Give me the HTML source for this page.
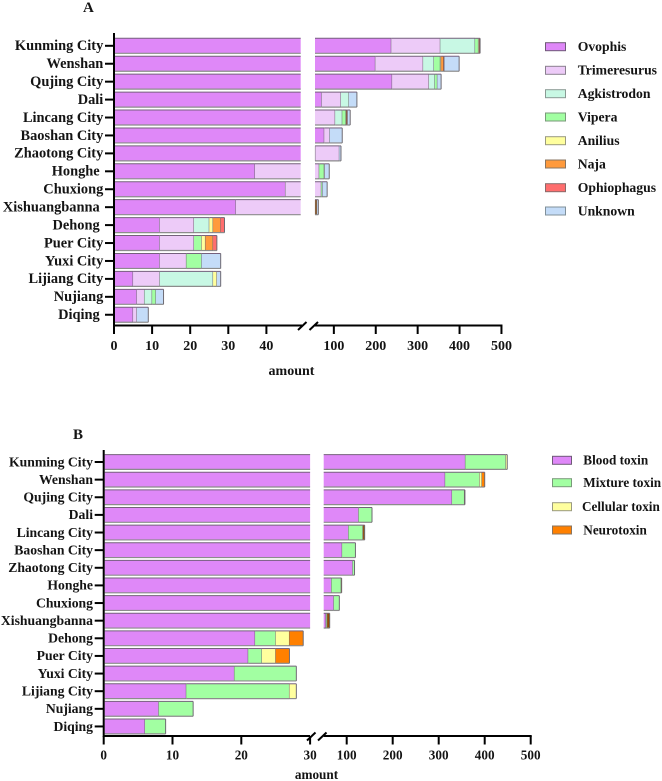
<!DOCTYPE html>
<html>
<head>
<meta charset="utf-8">
<title>Snake species and toxin types by city</title>
<style>
html,body{margin:0;padding:0;background:#fff;width:662px;height:781px;overflow:hidden}
svg{display:block}
text{font-family:"Liberation Serif",serif;font-weight:bold;fill:#141414}
</style>
</head>
<body>
<svg id="figure" width="662" height="781" viewBox="0 0 662 781" xmlns="http://www.w3.org/2000/svg">
  <text x="83" y="12" font-size="15">A</text>
  <text x="73" y="439" font-size="15">B</text>

  <g>
    <g><rect x="545.5" y="42.7" width="20" height="8" fill="#DF88F8" stroke="#6f5a78"/><text x="577.7" y="51" font-size="13.7">Ovophis</text></g>
    <g><rect x="545.5" y="66.3" width="20" height="8" fill="#EDCBF8" stroke="#8a8090"/><text x="577.7" y="74.6" font-size="13.7">Trimeresurus</text></g>
    <g><rect x="545.5" y="89.7" width="20" height="8" fill="#C8F8E4" stroke="#8a9a94"/><text x="577.7" y="98" font-size="13.7">Agkistrodon</text></g>
    <g><rect x="545.5" y="113" width="20" height="8" fill="#A2FFA2" stroke="#7a9a7a"/><text x="577.7" y="121.3" font-size="13.7">Vipera</text></g>
    <g><rect x="545.5" y="136.7" width="20" height="8" fill="#FFFF9E" stroke="#9a9a80"/><text x="577.7" y="145" font-size="13.7">Anilius</text></g>
    <g><rect x="545.5" y="160" width="20" height="8" fill="#FF9A3C" stroke="#8a7560"/><text x="577.7" y="168.3" font-size="13.7">Naja</text></g>
    <g><rect x="545.5" y="183.7" width="20" height="8" fill="#FF6E6E" stroke="#8a6a6a"/><text x="577.7" y="192" font-size="13.7">Ophiophagus</text></g>
    <g><rect x="545.5" y="207" width="20" height="8" fill="#C4DCF8" stroke="#80909a"/><text x="577.7" y="215.3" font-size="13.7">Unknown</text></g>
  </g>

  <g>
    <g><rect x="552.5" y="456.3" width="19" height="8" fill="#DF88F8" stroke="#6f5a78"/><text x="583.3" y="464.5" font-size="13.2">Blood toxin</text></g>
    <g><rect x="552.5" y="478.7" width="19" height="8" fill="#A2FFA2" stroke="#7a9a7a"/><text x="583.3" y="487" font-size="13.2">Mixture toxin</text></g>
    <g><rect x="552.5" y="502.7" width="19" height="8" fill="#FFFF9E" stroke="#9a9a80"/><text x="582" y="511" font-size="13.2">Cellular toxin</text></g>
    <g><rect x="552.5" y="526" width="19" height="8" fill="#FF8000" stroke="#8a7560"/><text x="583.3" y="534.3" font-size="13.2">Neurotoxin</text></g>
  </g>
</svg>
<script>
// Shared categories (panel A's labels keep a trailing no-break space on a few names)
const categories = ["Kunming City","Wenshan","Qujing City","Dali","Lincang City","Baoshan City","Zhaotong City","Honghe\u00A0","Chuxiong","Xishuangbanna\u00A0","Dehong\u00A0","Puer City","Yuxi City","Lijiang City","Nujiang","Diqing\u00A0"];

// Panel A: species counts
const ovophis      = [237,199,239,71,50,77,56,37,45,32,12,12,12,5,6,5];
const trimeresurus = [117,114,88,46,53,13,57,28,25,24,9,9,7,7,2,1];
const agkistrodon  = [83,26,14,19,17,0,0,0,0,0,4,0,0,14,2,0];
const vipera       = [8,15,6,0,9,0,0,12,3,0,0,2,4,0,1,0];
const anilius      = [2,2,0,0,0,0,0,0,0,0,1,1,0,1,0,0];
const naja         = [0,6,0,0,2,0,0,1,0,4,2,2,0,0,0,0];
const ophiophagus  = [2,2,0,0,2,0,0,0,0,0,1,1,0,0,0,0];
const unknown      = [0,35,9,19,6,30,4,11,11,3,0,0,5,1,2,3];
const ticksA = [0,10,20,30,40,100,200,300,400,500];

// Panel B: toxin counts
const bloodToxin    = [358,314,329,126,104,90,113,67,72,55,22,21,19,12,8,6];
const mixtureToxin  = [88,75,27,29,31,29,4,21,12,2,3,2,9,15,5,3];
const cellularToxin = [3,5,0,0,1,0,0,0,0,1,2,2,0,1,0,0];
const neurotoxin    = [0,6,1,0,3,0,0,1,0,5,2,2,0,0,0,0];
const ticksB = [0,10,20,30,100,200,300,400,500];

const NS = "http://www.w3.org/2000/svg";
const figure = document.getElementById("figure");

function node(parent, tag, attrs, text) {
  const el = document.createElementNS(NS, tag);
  for (const k in attrs) el.setAttribute(k, attrs[k]);
  if (text !== undefined) el.textContent = text;
  parent.appendChild(el);
  return el;
}

function drawChart(cfg) {
  const root = node(figure, "g", {});
  
  

  // Broken x scale: two linear panes joined by an axis break
  const x = v => v <= cfg.leftMax
    ? cfg.x0 + v * cfg.leftScale
    : cfg.rightX + (v - cfg.rightMin) * cfg.rightScale;
  const y = i => cfg.y0 + i * cfg.step;
  const h = cfg.barH;

  const barsGroup = node(root, "g", {});
  
  

  categories.forEach((cat, i) => {
    let total = 0;
    cfg.series.forEach(s => {
      const val = s.values[i];
      if (!val) return;
      const a = total, b = total + val;
      total = b;
      const top = y(i) - h / 2, bot = y(i) + h / 2;
      const pieces = [];
      if (a < cfg.leftMax) pieces.push([a, Math.min(b, cfg.leftMax), b <= cfg.leftMax]);
      if (b > cfg.rightMin) pieces.push([Math.max(a, cfg.rightMin), b, true]);
      pieces.forEach(p => {
        const g = node(barsGroup, "g", {});
        
        
        const xa = x(p[0]) + (p[0] === 0 ? 1 : 0), xb = x(p[1]);
        node(g, "rect", {x: xa, y: top, width: Math.max(xb - xa, 0.3), height: h, fill: s.color});
        // Very thin warm segments read as dark brown because their borders overlap
        if (s.warm && xb - xa < 2.4) node(g, "rect", {x: xa, y: top, width: Math.max(xb - xa, 0.3), height: h, fill: "#3a2408", "fill-opacity": 0.55});
        node(g, "line", {x1: xa, x2: xb, y1: top, y2: top, stroke: "#75607c", "stroke-width": 1});
        node(g, "line", {x1: xa, x2: xb, y1: bot, y2: bot, stroke: "#8c8c8c", "stroke-width": 1.2});
        if (p[2]) node(g, "line", {x1: xb, x2: xb, y1: top, y2: bot, stroke: "#6e6a72", "stroke-width": 1});
      });
    });

    const tick = node(root, "line", {x1: cfg.x0 - 9, x2: cfg.x0, y1: y(i), y2: y(i), stroke: "#000", "stroke-width": 2});
    
    
    const label = node(root, "text", {x: cfg.x0 - 10.7, y: y(i) + 4.3, "text-anchor": "end", "font-size": cfg.labelSize}, cfg.trimLabels ? cat.trim() : cat);
    
    
  });

  // Axes
  const yAxis = node(root, "line", {x1: cfg.x0, x2: cfg.x0, y1: cfg.yTop, y2: cfg.axisY + 1, stroke: "#000", "stroke-width": 2});
  
  
  const xLeft = node(root, "line", {x1: cfg.x0, x2: cfg.leftEnd, y1: cfg.axisY, y2: cfg.axisY, stroke: "#000", "stroke-width": 2});
  
  
  const xRight = node(root, "line", {x1: cfg.rightX, x2: x(500) + 1, y1: cfg.axisY, y2: cfg.axisY, stroke: "#000", "stroke-width": 2});
  
  

  cfg.slashes.forEach(sx => {
    const slash = node(root, "line", {x1: sx, x2: sx + 8.5, y1: cfg.axisY + 4.5, y2: cfg.axisY - 3.5, stroke: "#000", "stroke-width": 2});
    
    
  });

  cfg.ticks.forEach(t => {
    const tx = x(t);
    const tick = node(root, "line", {x1: tx, x2: tx, y1: cfg.axisY, y2: cfg.axisY + 8.5, stroke: "#000", "stroke-width": 2});
    
    
    const label = node(root, "text", {x: tx, y: cfg.tickBase, "text-anchor": "middle", "font-size": cfg.tickSize}, String(t));
    
    
  });

  const title = node(root, "text", {x: cfg.titleX, y: cfg.titleY, "text-anchor": "middle", "font-size": cfg.titleSize}, "amount");
  
  
}

drawChart({
  name: "species-chart",
  series: [
    {values: ovophis, color: "#DF88F8"},
    {values: trimeresurus, color: "#EDCBF8"},
    {values: agkistrodon, color: "#C8F8E4"},
    {values: vipera, color: "#A2FFA2"},
    {values: anilius, color: "#FFFF9E"},
    {values: naja, color: "#FF9A3C", warm: true},
    {values: ophiophagus, color: "#FF6E6E", warm: true},
    {values: unknown, color: "#C4DCF8"}
  ],
  ticks: ticksA,
  x0: 114, leftScale: 3.81, leftMax: 49, leftEnd: 302,
  rightX: 315, rightMin: 55, rightScale: 0.419,
  y0: 45.8, step: 17.93, barH: 15,
  yTop: 33, axisY: 325.5, tickBase: 350,
  slashes: [298, 309.5],
  labelSize: 14.4, tickSize: 14, titleSize: 14, titleX: 291.5, titleY: 375
});

drawChart({
  name: "toxin-chart",
  series: [
    {values: bloodToxin, color: "#DF88F8"},
    {values: mixtureToxin, color: "#A2FFA2"},
    {values: cellularToxin, color: "#FFFF9E"},
    {values: neurotoxin, color: "#FF8000", warm: true}
  ],
  ticks: ticksB,
  x0: 103.7, leftScale: 6.88, leftMax: 30, leftEnd: 310,
  rightX: 323.7, rightMin: 50, rightScale: 0.46,
  y0: 462, step: 17.63, barH: 14.8,
  yTop: 450, axisY: 736, tickBase: 759.5,
  slashes: [307, 318],
  trimLabels: true,
  labelSize: 13.7, tickSize: 13.2, titleSize: 13.2, titleX: 316.5, titleY: 779
});
</script>
</body>
</html>
